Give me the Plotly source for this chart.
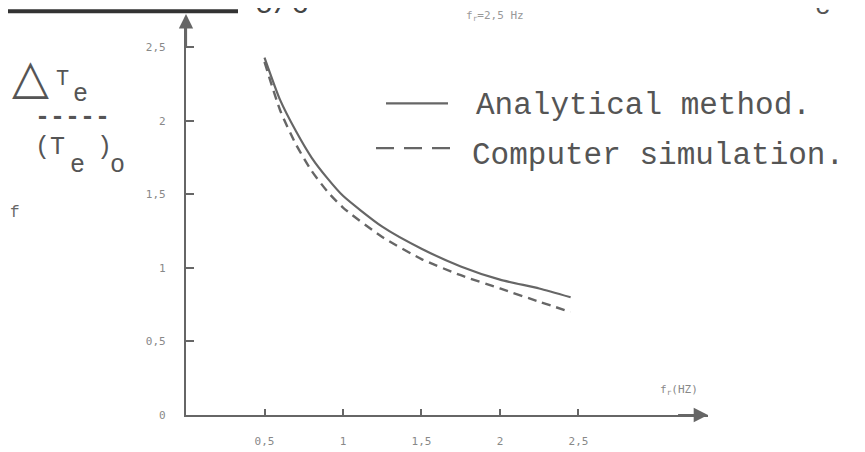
import plotly.graph_objects as go

# ---- data ----
fr = [0.5, 0.6, 0.7, 0.8, 0.9, 1.0, 1.25, 1.5, 1.75, 2.0, 2.25, 2.45]
analytical = [2.43, 2.14, 1.93, 1.75, 1.61, 1.49, 1.28, 1.13, 1.01, 0.92, 0.86, 0.80]
simulation = [2.40, 2.07, 1.84, 1.66, 1.52, 1.41, 1.21, 1.06, 0.95, 0.86, 0.77, 0.70]
x_ticks = [0.5, 1.0, 1.5, 2.0, 2.5]
x_tick_text = ["0,5", "1", "1,5", "2", "2,5"]
y_ticks = [0, 0.5, 1.0, 1.5, 2.0, 2.5]
y_tick_text = ["0", "0,5", "1", "1,5", "2", "2,5"]
series_names = ["Analytical method.", "Computer simulation."]

INK = "#666666"
W, H = 865, 452
L, R, T, B = 178, 700, 12, 419
XMAX = 3.325
YMAX = 2.685

def px(p):
    return (p - L) / (R - L)

def py(q):
    return (B - q) / (B - T)

fig = go.Figure()
fig.add_trace(go.Scatter(x=fr, y=analytical, mode="lines", name=series_names[0],
                         line=dict(color=INK, width=2.2, shape="spline", smoothing=0.6)))
fig.add_trace(go.Scatter(x=fr, y=simulation, mode="lines", name=series_names[1],
                         line=dict(color=INK, width=2.4, dash="9px,6px", shape="spline", smoothing=0.6)))

fig.update_layout(
    width=W, height=H,
    margin=dict(l=L, r=W - R, t=T, b=H - B),
    paper_bgcolor="white", plot_bgcolor="white",
    showlegend=False,
    xaxis=dict(range=[0, XMAX], showgrid=False, zeroline=False, showline=True,
               linecolor=INK, linewidth=2.2, ticks="inside", ticklen=6, tickwidth=1.5,
               tickcolor=INK, tickvals=x_ticks, ticktext=x_tick_text,
               tickfont=dict(family="DejaVu Sans Mono", size=11, color="#888888"),
               ticklabelstandoff=15),
    yaxis=dict(range=[0, YMAX], showgrid=False, zeroline=False, showline=True,
               linecolor=INK, linewidth=2.2, ticks="inside", ticklen=8, tickwidth=1.8,
               tickcolor=INK, tickvals=y_ticks, ticktext=y_tick_text,
               tickfont=dict(family="DejaVu Sans Mono", size=11, color="#888888"),
               ticklabelstandoff=16),
)

ann = []
# axis arrowheads
ann.append(dict(x=XMAX, y=0, ax=XMAX - 0.2, ay=0, xref="x", yref="y", axref="x", ayref="y",
                showarrow=True, arrowhead=2, arrowsize=1.3, arrowwidth=2.2, arrowcolor=INK, text=""))
ann.append(dict(x=0, y=YMAX + 0.04, ax=0, ay=YMAX - 0.2, xref="x", yref="y", axref="x", ayref="y",
                showarrow=True, arrowhead=2, arrowsize=1.3, arrowwidth=2.2, arrowcolor=INK, text=""))

mono = "Liberation Mono"
def txt(t, xp, yp, size, color="#555555", family=mono, xanchor="left"):
    ann.append(dict(text=t, x=px(xp), y=py(yp), xref="paper", yref="paper", showarrow=False,
                    xanchor=xanchor, yanchor="middle", font=dict(family=family, size=size, color=color)))

# legend texts
txt(series_names[0], 466, 100, 31)
txt(series_names[1], 462, 152, 31)

# y label  ΔTe / (Te)o
txt("△", 2, 70, 48, color="#555555", family="DejaVu Sans")
txt("T", 46, 73, 22)
txt("e", 63, 89, 25)
txt("<b>-----</b>", 25, 112, 25)
txt("(T", 25, 143, 25)
txt(")", 87, 143, 25)
txt("e", 60, 162, 25)
txt("o", 100, 162, 25)

# x axis label
txt("f<sub>r</sub>(HZ)", 650, 393, 11, color="#888888", family="DejaVu Sans Mono")

# scan fragments at the page edges
txt("c/6", 245, -3, 30, color="#444444")
txt("f<sub>r</sub>=2,5 Hz", 456, 8, 11, color="#999999", family="DejaVu Sans Mono")
txt("c", 805, -1, 26, color="#555555")
txt("f", 0, 211, 16, color="#666666")

fig.update_layout(annotations=ann)

shapes = []
# legend samples
shapes.append(dict(type="line", xref="paper", yref="paper", x0=px(378), x1=px(440), y0=py(98), y1=py(98),
                   line=dict(color=INK, width=2.2)))
shapes.append(dict(type="line", xref="paper", yref="paper", x0=px(368), x1=px(442), y0=py(144), y1=py(144),
                   line=dict(color=INK, width=2.2, dash="18px,10px")))
# dark rule at top-left edge of the page
shapes.append(dict(type="line", xref="paper", yref="paper", x0=px(0), x1=px(230), y0=py(3), y1=py(3),
                   line=dict(color="#333333", width=4)))
fig.update_layout(shapes=shapes)

fig.write_html("out.html")
